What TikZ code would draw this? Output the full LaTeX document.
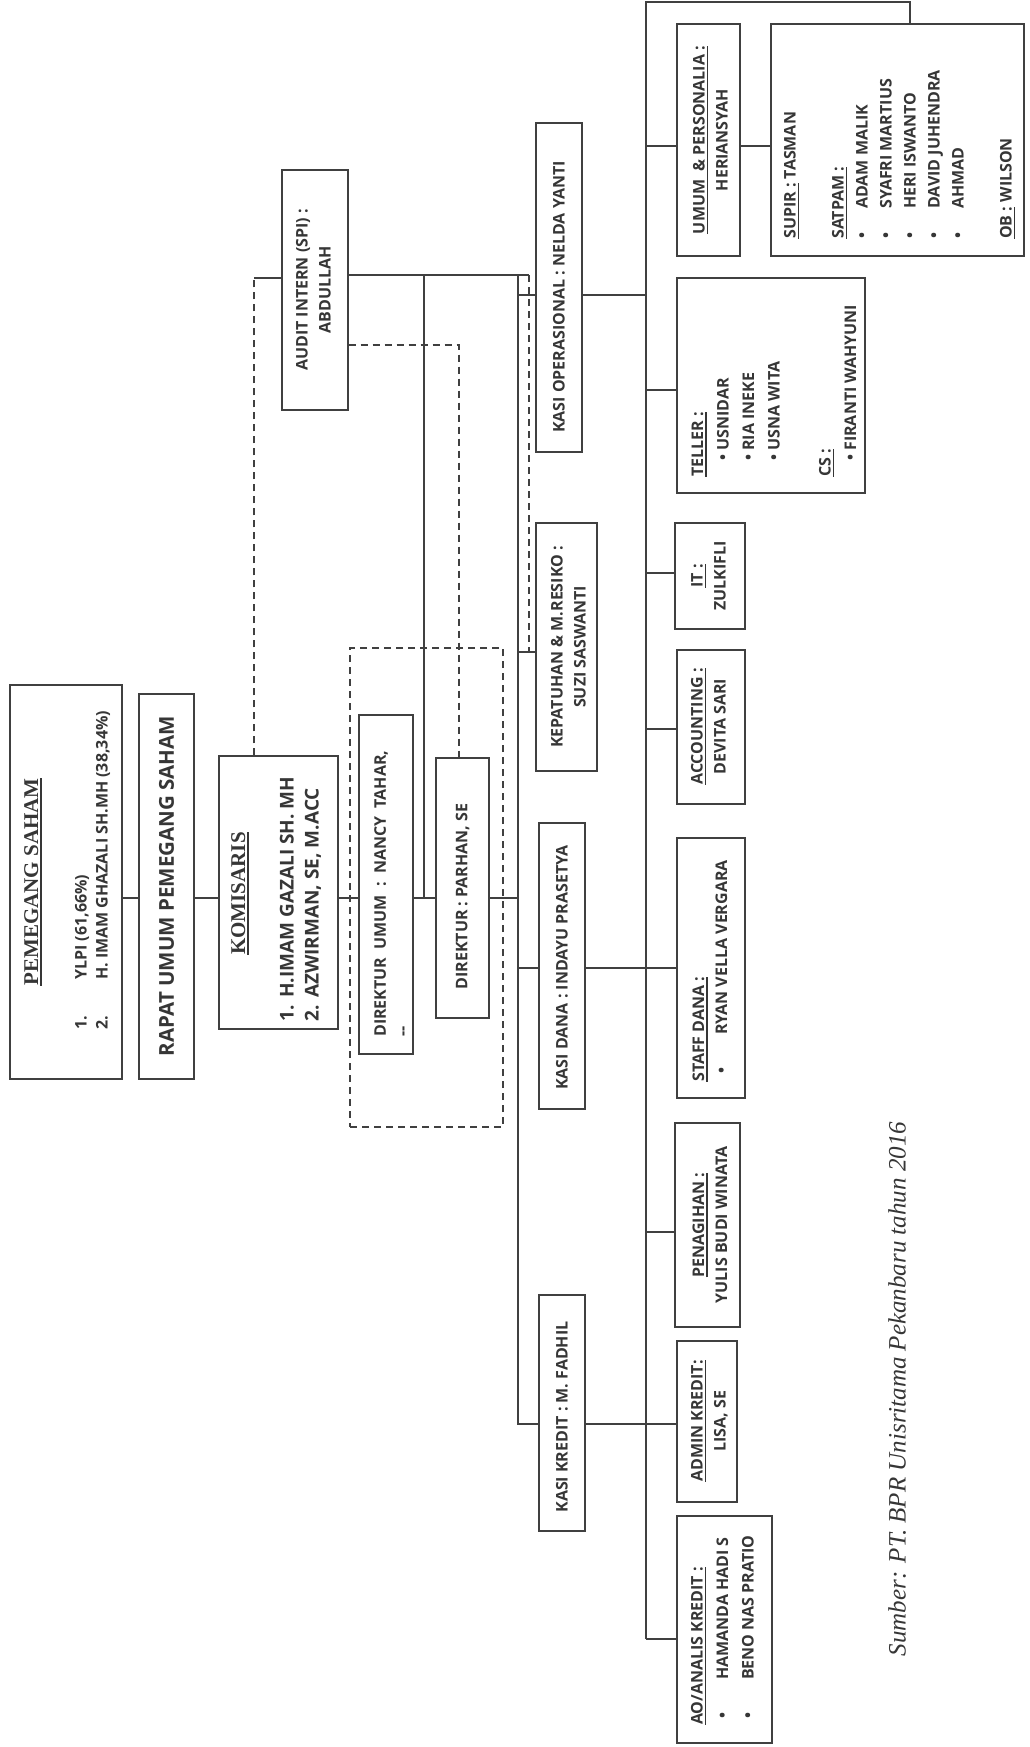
\documentclass[tikz,border=0pt]{standalone}
\usepackage{fontspec}
\setmainfont{Open Sans}
\newfontfamily\tnr{Liberation Serif}
\definecolor{ink}{HTML}{363636}
\definecolor{lnc}{HTML}{404040}
\newcommand\myul[1]{\setbox0\hbox{#1}\rlap{\rule[-3.5pt]{\wd0}{1.3pt}}\box0\relax}
\tikzset{
  bx/.style={draw=lnc, line width=1.3pt, inner sep=0pt, rectangle},
  grp/.style={draw=lnc, line width=1.1pt, dash pattern=on 7pt off 5pt, inner sep=0pt, rectangle},
  tx/.style={rotate=90, inner sep=0pt, text=ink, font=\bfseries\fontsize{16}{23}\selectfont},
  ttl/.style={rotate=90, inner sep=0pt, text=ink, font=\tnr\bfseries\fontsize{21}{26}\selectfont},
  ln/.style={draw=lnc, line width=1.3pt},
  dsh/.style={draw=lnc, line width=1.1pt, dash pattern=on 7pt off 5pt},
}
\begin{document}
\begin{tikzpicture}[x=1pt,y=-1pt]
\fill[white] (0,0) rectangle (1029,1747);
\useasboundingbox (0,0) rectangle (1029,1747);

% ---------- boxes ----------
\node[bx, minimum width=112pt, minimum height=394pt] (pem)   at (66,882) {};
\node[bx, minimum width=55pt,  minimum height=385pt] (rapat) at (166.5,886.5) {};
\node[bx, minimum width=119pt, minimum height=273pt] (kom)   at (278.5,892.5) {};
\node[grp, minimum width=153pt, minimum height=479pt] (dirgrp) at (426.5,887.5) {};
\node[bx, minimum width=54pt,  minimum height=339pt] (dirum) at (386,884.5) {};
\node[bx, minimum width=53pt,  minimum height=260pt] (dirp)  at (462.5,888) {};
\node[bx, minimum width=66pt,  minimum height=240pt] (aud)   at (315,290) {};
\node[bx, minimum width=46pt,  minimum height=329pt] (kop)   at (559,287.5) {};
\node[bx, minimum width=61pt,  minimum height=248pt] (kep)   at (566.5,647) {};
\node[bx, minimum width=46pt,  minimum height=286pt] (kdana) at (562,966) {};
\node[bx, minimum width=46pt,  minimum height=236pt] (kkred) at (562,1413) {};
\node[bx, minimum width=63pt,  minimum height=232pt] (umum)  at (708.5,140) {};
\node[bx, minimum width=253pt, minimum height=232pt] (sat)   at (897.5,140) {};
\node[bx, minimum width=188pt, minimum height=215pt] (tel)   at (771,385.5) {};
\node[bx, minimum width=70pt,  minimum height=106pt] (it)    at (710,576) {};
\node[bx, minimum width=68pt,  minimum height=154pt] (acc)   at (711,727) {};
\node[bx, minimum width=68pt,  minimum height=260pt] (staff) at (711,968) {};
\node[bx, minimum width=65pt,  minimum height=204pt] (pen)   at (707.5,1225) {};
\node[bx, minimum width=60pt,  minimum height=161pt] (admin) at (707,1421.5) {};
\node[bx, minimum width=95pt,  minimum height=227pt] (ao)    at (724.5,1629.5) {};

% ---------- texts ----------
\node[ttl] (pem-t) at (33,882) {\myul{PEMEGANG SAHAM}};
\node[tx, anchor=west, align=left, font=\bfseries\fontsize{16}{21}\selectfont] (pem-l) at (92.5,1030)
  {\makebox[50pt][l]{1.}YLPI (61,66\%)\\\makebox[50pt][l]{2.}H. IMAM GHAZALI SH.MH (38,34\%)};
\node[tx, font=\bfseries\fontsize{20.5}{24}\selectfont] (rapat-t) at (166.5,886) {RAPAT UMUM PEMEGANG SAHAM};
\node[ttl] (kom-t) at (240,893.5) {\myul{KOMISARIS}};
\node[tx, anchor=west, align=left, font=\bfseries\fontsize{19}{25}\selectfont] (kom-l) at (300.5,1022)
  {\makebox[24pt][l]{1.}H.IMAM GAZALI SH. MH\\\makebox[24pt][l]{2.}AZWIRMAN, SE, M.ACC};
\node[tx, anchor=west, align=left, font=\bfseries\fontsize{16}{22}\selectfont] (dirum-t) at (391,1037)
  {DIREKTUR\ \ UMUM\ \ :\ \ NANCY\ \ TAHAR,\\-{}-};
\node[tx] (dirp-t) at (462.5,896.5) {DIREKTUR : PARHAN, SE};
\node[tx, align=center] (aud-t) at (313.5,290) {AUDIT INTERN (SPI) :\\ABDULLAH};
\node[tx] (kop-t) at (559,297) {KASI OPERASIONAL : NELDA YANTI};
\node[tx, align=center] (kep-t) at (568.5,647) {KEPATUHAN \& M.RESIKO :\\SUZI SASWANTI};
\node[tx] (kdana-t) at (562,967.5) {KASI DANA : INDAYU PRASETYA};
\node[tx] (kkred-t) at (562,1417) {KASI KREDIT : M. FADHIL};
\node[tx, align=center] (umum-t) at (710.5,140) {\myul{UMUM\ \ \& PERSONALIA :}\\HERIANSYAH};
\node[tx, anchor=west, align=left, font=\bfseries\fontsize{16}{24}\selectfont] (sat-t) at (899.5,239)
  {\myul{SUPIR :} TASMAN\\[24pt]
   \myul{SATPAM :}\\
   \makebox[30pt][l]{\textbullet}ADAM MALIK\\
   \makebox[30pt][l]{\textbullet}SYAFRI MARTIUS\\
   \makebox[30pt][l]{\textbullet}HERI ISWANTO\\
   \makebox[30pt][l]{\textbullet}DAVID JUHENDRA\\
   \makebox[30pt][l]{\textbullet}AHMAD\\[24pt]
   \myul{OB :} WILSON};
\node[tx, anchor=west, align=left, font=\bfseries\fontsize{16}{25.5}\selectfont] (tel-t) at (774,477)
  {\myul{TELLER :}\\
   \hspace*{16pt}\textbullet\ USNIDAR\\
   \hspace*{16pt}\textbullet\ RIA INEKE\\
   \hspace*{16pt}\textbullet\ USNA WITA\\[25.5pt]
   \myul{CS :}\\
   \hspace*{16pt}\textbullet\ FIRANTI WAHYUNI};
\node[tx, align=center] (it-t) at (708.5,576) {\myul{IT :}\\ZULKIFLI};
\node[tx, align=center] (acc-t) at (708.5,726.5) {\myul{ACCOUNTING :}\\DEVITA SARI};
\node[tx, anchor=west, align=left] (staff-t) at (710,1082)
  {\myul{STAFF DANA :}\\\hspace*{8pt}\makebox[39pt][l]{\textbullet}RYAN VELLA VERGARA};
\node[tx, align=center] (pen-t) at (710,1225) {\myul{PENAGIHAN :}\\YULIS BUDI WINATA};
\node[tx, align=center] (admin-t) at (709.5,1421) {\myul{ADMIN KREDIT:}\\LISA, SE};
\node[tx, anchor=west, align=left, font=\bfseries\fontsize{16}{25.5}\selectfont] (ao-t) at (722.5,1725)
  {\myul{AO/ANALIS KREDIT :}\\
   \hspace*{6pt}\makebox[39pt][l]{\textbullet}HAMANDA HADI S\\
   \hspace*{6pt}\makebox[39pt][l]{\textbullet}BENO NAS PRATIO};
\node[rotate=90, inner sep=0pt, text=ink, font=\tnr\itshape\fontsize{25}{30}\selectfont] (cap) at (897,1389)
  {Sumber: PT. BPR Unisritama Pekanbaru tahun 2016};

% ---------- junction coordinates ----------
\coordinate (jy) at (0,898);
\coordinate (yaud) at (0,275);
\coordinate (ykomd) at (0,278);
\coordinate (yaudd) at (0,345);
\coordinate (yop) at (0,295);
\coordinate (ykep) at (0,652);
\coordinate (ydana) at (0,968);
\coordinate (ykred) at (0,1424);
\coordinate (yumum) at (0,146);
\coordinate (ytel) at (0,390);
\coordinate (yit) at (0,573);
\coordinate (yacc) at (0,729);
\coordinate (ypen) at (0,1232);
\coordinate (yao) at (0,1639);
\coordinate (Lt) at (518,275);
\coordinate (Dz) at (529,275);
\coordinate (Vd) at (424,275);
\coordinate (Rt) at (646,2);
\coordinate (St) at (910,2);
\coordinate (Xk) at (254,278);
\coordinate (Xp) at (459,345);

% ---------- connectors ----------
\draw[ln] (pem.east |- jy) -- (rapat.west |- jy);
\draw[ln] (rapat.east |- jy) -- (kom.west |- jy);
\draw[ln] (kom.east |- jy) -- (dirum.west |- jy);
\draw[ln] (dirum.east |- jy) -- (dirp.west |- jy);
\draw[ln] (dirp.east |- jy) -- (Lt |- jy);
\draw[ln] (Vd) -- (Vd |- jy);
\draw[ln] (aud.east |- yaud) -- (Dz);
\draw[ln] (Lt) -- (Lt |- ykred) -- (kkred.west |- ykred);
\draw[ln] (Lt |- yop) -- (kop.west |- yop);
\draw[ln] (Lt |- ykep) -- (kep.west |- ykep);
\draw[ln] (Lt |- ydana) -- (kdana.west |- ydana);

\draw[ln] (kop.east |- yop) -- (Rt |- yop);
\draw[ln] (Rt |- yao) -- (Rt) -- (St) -- (St |- sat.north);
\draw[ln] (Rt |- yao) -- (ao.west |- yao);
\draw[ln] (Rt |- yumum) -- (umum.west |- yumum);
\draw[ln] (umum.east |- yumum) -- (sat.west |- yumum);
\draw[ln] (Rt |- ytel) -- (tel.west |- ytel);
\draw[ln] (Rt |- yit) -- (it.west |- yit);
\draw[ln] (Rt |- yacc) -- (acc.west |- yacc);
\draw[ln] (kdana.east |- ydana) -- (staff.west |- ydana);
\draw[ln] (Rt |- ypen) -- (pen.west |- ypen);
\draw[ln] (kkred.east |- ykred) -- (admin.west |- ykred);

% dashed links
\draw[dsh] (Dz) -- (Dz |- ykep);
\draw[dsh] (Xk |- kom.north) -- (Xk);
\draw[ln] (Xk) -- (aud.west |- ykomd);
\draw[dsh] (aud.east |- yaudd) -- (Xp) -- (Xp |- dirp.north);
\end{tikzpicture}
\end{document}
